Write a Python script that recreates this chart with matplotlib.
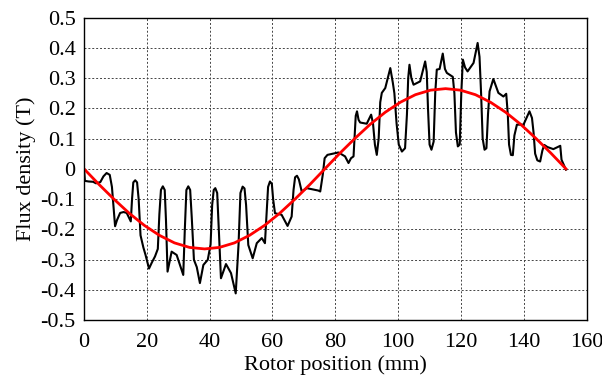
import numpy as np
import matplotlib
matplotlib.use('Agg')
import matplotlib.pyplot as plt

# measured flux density (black)
pos = [0.0, 0.3, 1.5, 2.9, 3.8, 5.2, 6.2, 7.2, 8.2, 8.9, 9.9, 10.5, 11.5, 12.6, 13.6,
       14.9, 15.3, 15.7, 16.3, 16.9, 17.4, 18.0, 18.9, 19.6, 20.7, 21.6, 22.6, 23.5,
       24.0, 24.5, 25.1, 25.7, 26.1, 26.6, 27.9, 29.5, 31.6, 32.1, 32.6, 33.2, 33.8,
       34.3, 35.0, 35.9, 36.9, 38.0, 39.4, 40.3, 40.8, 41.3, 41.8, 42.4, 42.9, 43.6,
       45.2, 46.8, 48.3, 49.2, 49.8, 50.5, 51.1, 51.6, 52.3, 53.7, 55.0, 56.6, 57.6,
       58.1, 58.6, 59.2, 59.8, 60.2, 60.8, 62.9, 64.8, 66.1, 66.7, 67.2, 67.8, 68.4,
       69.3, 70.9, 74.6, 75.2, 76.0, 76.6, 77.5, 81.0, 83.1, 84.2, 85.0, 85.8, 86.1,
       86.5, 86.9, 87.4, 87.9, 90.0, 91.4, 92.0, 92.6, 93.2, 93.8, 94.3, 94.8, 95.9,
       97.5, 98.3, 98.8, 99.5, 100.2, 101.2, 102.2, 102.8, 103.2, 103.6, 104.2, 104.9,
       107.0, 108.6, 109.1, 109.5, 110.0, 110.6, 111.3, 111.8, 112.3, 113.2, 114.2,
       114.9, 115.5, 117.4, 117.9, 118.4, 119.0, 119.6, 120.1, 120.6, 121.3, 122.1,
       124.0, 125.3, 125.9, 126.4, 126.9, 127.5, 128.1, 128.6, 129.1, 130.3, 131.9,
       133.5, 134.4, 134.9, 135.3, 135.9, 136.5, 137.0, 137.8, 139.9, 141.8, 142.6,
       143.1, 143.6, 144.3, 145.2, 145.9, 146.5, 147.5, 149.4, 151.6, 152.0, 153.4]
flux = [0.0, -0.040, -0.042, -0.043, -0.048, -0.044, -0.025, -0.014, -0.020, -0.060,
        -0.190, -0.170, -0.146, -0.143, -0.146, -0.174, -0.100, -0.045, -0.038, -0.045,
        -0.100, -0.220, -0.260, -0.285, -0.330, -0.310, -0.290, -0.265, -0.150, -0.070,
        -0.058, -0.070, -0.170, -0.340, -0.274, -0.285, -0.351, -0.200, -0.070, -0.058,
        -0.070, -0.160, -0.301, -0.325, -0.378, -0.318, -0.301, -0.250, -0.120, -0.070,
        -0.064, -0.080, -0.200, -0.362, -0.315, -0.345, -0.412, -0.250, -0.080, -0.059,
        -0.065, -0.120, -0.252, -0.296, -0.246, -0.229, -0.246, -0.150, -0.060, -0.042,
        -0.050, -0.100, -0.147, -0.152, -0.189, -0.158, -0.070, -0.028, -0.023, -0.035,
        -0.075, -0.064, -0.072, -0.075, -0.020, 0.035, 0.046, 0.054, 0.041, 0.019, 0.035,
        0.041, 0.100, 0.175, 0.190, 0.162, 0.153, 0.149, 0.179, 0.150, 0.080, 0.046,
        0.100, 0.220, 0.251, 0.267, 0.333, 0.285, 0.250, 0.150, 0.080, 0.057, 0.068,
        0.180, 0.300, 0.344, 0.300, 0.278, 0.289, 0.355, 0.320, 0.200, 0.080, 0.063,
        0.090, 0.250, 0.328, 0.330, 0.381, 0.330, 0.317, 0.304, 0.250, 0.120, 0.074,
        0.080, 0.250, 0.361, 0.335, 0.322, 0.350, 0.416, 0.370, 0.250, 0.100, 0.063,
        0.068, 0.180, 0.256, 0.297, 0.251, 0.239, 0.248, 0.180, 0.080, 0.046, 0.045,
        0.110, 0.146, 0.146, 0.190, 0.168, 0.120, 0.050, 0.028, 0.024, 0.060, 0.079,
        0.072, 0.065, 0.076, 0.030, -0.003]

# fundamental component (red)
fund_pos = [0.0, 4.8, 9.6, 14.4, 19.2, 24.0, 28.8, 33.6, 38.4, 43.1, 47.9, 52.7, 57.5,
            62.3, 67.1, 71.9, 76.7, 81.5, 86.3, 91.1, 95.9, 100.7, 105.5, 110.3, 115.1,
            119.8, 124.6, 129.4, 134.2, 139.0, 143.8, 148.6, 153.4]
fund_flux = [0.0, -0.052, -0.101, -0.147, -0.187, -0.220, -0.245, -0.260, -0.265,
             -0.260, -0.245, -0.220, -0.187, -0.147, -0.101, -0.052, 0.0, 0.052, 0.101,
             0.147, 0.187, 0.220, 0.245, 0.260, 0.265, 0.260, 0.245, 0.220, 0.187, 0.147,
             0.101, 0.052, 0.0]

plt.rcParams['font.family'] = ['Liberation Serif', 'DejaVu Serif']

fig = plt.figure(figsize=(6.02, 3.82), dpi=100)
ax = fig.add_axes([0.1395, 0.1623, 0.835, 0.7917])

ax.plot(pos, flux, color='black', lw=1.5, solid_joinstyle='round')
ax.plot(fund_pos, fund_flux, color='red', lw=2, solid_joinstyle='round')

ax.set_xlim(0, 160)
ax.set_ylim(-0.5, 0.5)
ax.set_xticks(np.arange(0, 161, 20))
ax.set_yticks(np.round(np.arange(-0.5, 0.51, 0.1), 1))
ax.set_yticklabels(['-0.5', '-0.4', '-0.3', '-0.2', '-0.1', '0', '0.1', '0.2', '0.3', '0.4', '0.5'])
ax.grid(True, color='#444444', linestyle=(0, (2, 2)), lw=0.7)
ax.tick_params(direction='in', length=0, labelsize=16)
ax.tick_params(axis='x', pad=9)
ax.tick_params(axis='y', pad=6)
for s in ax.spines.values():
    s.set_linewidth(1.0)

ax.set_xlabel('Rotor position (mm)', fontsize=16, labelpad=3)
ax.set_ylabel('Flux density (T)', fontsize=16, labelpad=3)

fig.savefig('out.png', dpi=100)
